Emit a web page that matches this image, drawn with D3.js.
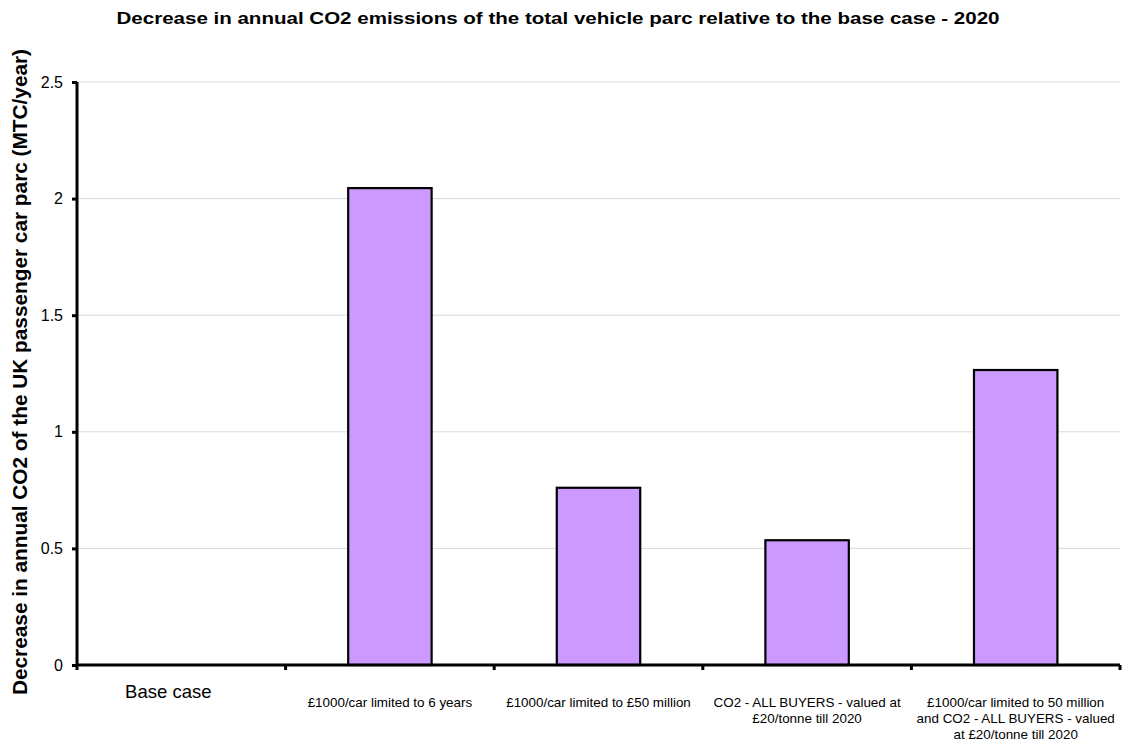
<!DOCTYPE html>
<html>
<head>
<meta charset="utf-8">
<script src="https://cdn.jsdelivr.net/npm/d3@7"></script>
<style>
  body { margin: 0; background: #fff; }
  svg { display: block; font-family: "Liberation Sans", Arial, sans-serif; }
</style>
</head>
<body>
<svg id="chart" width="1123" height="742"></svg>
<script>
// Scenarios and their reductions in annual CO2 (MTC/year)
const categories = [
  "Base case",
  "£1000/car limited to 6 years",
  "£1000/car limited to £50 million",
  "CO2 - ALL BUYERS - valued at £20/tonne till 2020",
  "£1000/car limited to 50 million and CO2 - ALL BUYERS - valued at £20/tonne till 2020"
];
const values = [0, 2.045, 0.76, 0.535, 1.265];
const yTicks = [0, 0.5, 1, 1.5, 2, 2.5];
const yTickLabels = ["0", "0.5", "1", "1.5", "2", "2.5"];
// Wrapped lines for the category labels
const categoryLines = [
  ["Base case"],
  ["£1000/car limited to 6 years"],
  ["£1000/car limited to £50 million"],
  ["CO2 - ALL BUYERS - valued at", "£20/tonne till 2020"],
  ["£1000/car limited to 50 million", "and CO2 - ALL BUYERS - valued", "at £20/tonne till 2020"]
];

const svg = d3.select("#chart");
const margin = { left: 77, right: 3, top: 82, bottom: 77 };
const W = 1123, H = 742;

const x = d3.scaleBand()
  .domain(categories)
  .range([margin.left, W - margin.right])
  .paddingInner(0.6)
  .paddingOuter(0.3);

const y = d3.scaleLinear()
  .domain([0, 2.5])
  .range([H - margin.bottom, margin.top]);

// Gridlines
svg.append("g")
  .selectAll("line")
  .data(yTicks.filter(d => d > 0))
  .join("line")
  .attr("x1", margin.left).attr("x2", W - margin.right)
  .attr("y1", d => y(d)).attr("y2", d => y(d))
  .attr("stroke", "#d9d9d9").attr("stroke-width", 1);

// Bars
svg.append("g")
  .selectAll("rect")
  .data(values)
  .join("rect")
  .attr("x", (d, i) => x(categories[i]))
  .attr("width", x.bandwidth())
  .attr("y", d => y(d))
  .attr("height", d => y(0) - y(d))
  .attr("fill", "#cc99ff")
  .attr("stroke", d => d > 0 ? "#000" : "none")
  .attr("stroke-width", 2.2);

// Y axis
const yAxis = d3.axisLeft(y)
  .tickValues(yTicks)
  .tickFormat((d, i) => yTickLabels[i])
  .tickSize(5)
  .tickPadding(9);
const gy = svg.append("g")
  .attr("transform", `translate(${margin.left},0)`)
  .call(yAxis);
gy.select(".domain").attr("stroke", "#000").attr("stroke-width", 3)
  .attr("d", `M0,${y(2.5)}V${y(0)}`);
gy.selectAll(".tick line").attr("stroke", "#000").attr("stroke-width", 3);
gy.selectAll(".tick text").attr("font-size", 16).attr("fill", "#000")
  .attr("font-family", "Liberation Sans, Arial, sans-serif");

// X axis: ticks at band boundaries
const bounds = d3.range(categories.length + 1).map(i => margin.left + i * ((W - margin.right - margin.left) / categories.length));
const gx = svg.append("g");
gx.append("line")
  .attr("x1", margin.left).attr("x2", W - margin.right)
  .attr("y1", y(0)).attr("y2", y(0))
  .attr("stroke", "#000").attr("stroke-width", 3);
gx.selectAll("line.tk")
  .data(bounds)
  .join("line")
  .attr("class", "tk")
  .attr("x1", d => d).attr("x2", d => d)
  .attr("y1", y(0)).attr("y2", y(0) + 5)
  .attr("stroke", "#000").attr("stroke-width", 3);

// Category labels (the first one is larger and sits a little left of centre)
const lab = svg.append("g");
categoryLines.forEach((lines, i) => {
  const first = i === 0;
  const cx = x(categories[i]) + x.bandwidth() / 2 - (first ? 13 : 0);
  const t = lab.append("text")
    .attr("text-anchor", "middle")
    .attr("font-size", first ? 18.5 : 13.4)
    .attr("fill", "#000");
  lines.forEach((ln, j) => {
    t.append("tspan")
      .attr("x", cx)
      .attr("y", (first ? 698 : 707) + j * 16)
      .text(ln);
  });
});

// Title
svg.append("text")
  .attr("x", 558).attr("y", 24)
  .attr("text-anchor", "middle")
  .attr("font-size", 16).attr("font-weight", "bold")
  .attr("textLength", 883).attr("lengthAdjust", "spacingAndGlyphs")
  .text("Decrease in annual CO2 emissions of the total vehicle parc relative to the base case - 2020");

// Y axis title
svg.append("text")
  .attr("transform", "translate(27,372) rotate(-90)")
  .attr("text-anchor", "middle")
  .attr("font-size", 20.8).attr("font-weight", "bold")
  .text("Decrease in annual CO2 of the UK passenger car parc (MTC/year)");
</script>
</body>
</html>
